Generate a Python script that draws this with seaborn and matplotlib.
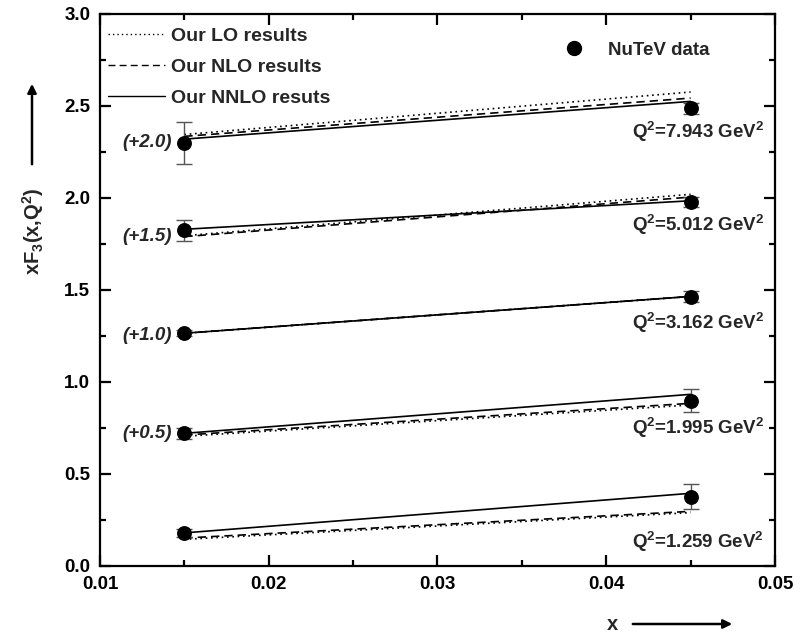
import numpy as np
import pandas as pd
import matplotlib
matplotlib.use("Agg")
import matplotlib.pyplot as plt
from matplotlib.lines import Line2D
from matplotlib.ticker import MultipleLocator, FormatStrFormatter
import seaborn as sns

# ---------------- data ----------------
x_vals = [0.015, 0.045]
q2_labels = ["1.259", "1.995", "3.162", "5.012", "7.943"]
shift_labels = ["", "(+0.5)", "(+1.0)", "(+1.5)", "(+2.0)"]

data_left = [0.179, 0.721, 1.265, 1.825, 2.30]
data_right = [0.377, 0.898, 1.464, 1.978, 2.488]
err_left = [0.02, 0.03, 0.015, 0.058, 0.115]
err_right = [0.068, 0.062, 0.03, 0.025, 0.03]

lo_left = [0.145, 0.705, 1.265, 1.795, 2.345]
lo_right = [0.290, 0.875, 1.465, 2.020, 2.576]
nlo_left = [0.152, 0.712, 1.265, 1.790, 2.335]
nlo_right = [0.297, 0.884, 1.465, 2.005, 2.543]
nnlo_left = [0.180, 0.721, 1.265, 1.830, 2.320]
nnlo_right = [0.395, 0.933, 1.465, 1.985, 2.525]

# label anchor values (y positions in data units)
q2_label_y = [0.132, 0.75, 1.32, 1.853, 2.36]
shift_label_y = [0.0, 0.72, 1.25, 1.79, 2.30]

# ---------------- style ----------------
sns.set_theme(style="ticks")
plt.rcParams.update({
    "xtick.direction": "in", "ytick.direction": "in",
    "xtick.top": True, "ytick.right": True,
})
plt.rcParams["font.family"] = ["Liberation Sans", "DejaVu Sans"]
plt.rcParams["font.weight"] = "bold"
plt.rcParams["mathtext.fontset"] = "custom"
plt.rcParams["mathtext.rm"] = "Liberation Sans:bold"
plt.rcParams["mathtext.it"] = "Liberation Sans:bold:italic"
plt.rcParams["mathtext.bf"] = "Liberation Sans:bold"
plt.rcParams["mathtext.default"] = "rm"

fig = plt.figure(figsize=(8.01, 6.36), dpi=100)
ax = fig.add_axes([100 / 801, 70 / 636, 675 / 801, 552 / 636])

# build long tables
rows = []
for order, L, R in [("LO", lo_left, lo_right), ("NLO", nlo_left, nlo_right), ("NNLO", nnlo_left, nnlo_right)]:
    for i, q in enumerate(q2_labels):
        rows.append({"order": order, "Q2": q, "x": x_vals[0], "y": L[i]})
        rows.append({"order": order, "Q2": q, "x": x_vals[1], "y": R[i]})
theory = pd.DataFrame(rows)

drows = []
for i, q in enumerate(q2_labels):
    drows.append({"Q2": q, "x": x_vals[0], "y": data_left[i], "err": err_left[i]})
    drows.append({"Q2": q, "x": x_vals[1], "y": data_right[i], "err": err_right[i]})
data = pd.DataFrame(drows)

styles = {"LO": (0, (1, 2.2)), "NLO": (0, (5, 3)), "NNLO": "-"}
for order in ["LO", "NLO", "NNLO"]:
    sub = theory[theory.order == order]
    sns.lineplot(data=sub, x="x", y="y", units="Q2", estimator=None, ax=ax,
                 color="black", lw=1.2, linestyle=styles[order], legend=False,
                 sort=False)

ax.errorbar(data["x"], data["y"], yerr=data["err"], fmt="none",
            ecolor="#555555", elinewidth=1.0, capsize=6, capthick=1.0, zorder=3)
sns.scatterplot(data=data, x="x", y="y", ax=ax, color="black", s=115,
                edgecolor="black", linewidth=0, zorder=4, legend=False)

# text labels
for i, q in enumerate(q2_labels):
    ax.text(0.04544, q2_label_y[i], r"Q$^{2}$=" + q + r" GeV$^{2}$",
            ha="center", va="center", fontsize=13.5, fontweight="bold")
for i, s in enumerate(shift_labels):
    if s:
        ax.text(0.01428, shift_label_y[i], s, ha="right", va="center",
                fontsize=13.5, fontweight="bold", style="italic")

# axes
ax.set_xlim(0.01, 0.05)
ax.set_ylim(0.0, 3.0)
ax.xaxis.set_major_locator(MultipleLocator(0.01))
ax.xaxis.set_minor_locator(MultipleLocator(0.005))
ax.yaxis.set_major_locator(MultipleLocator(0.5))
ax.yaxis.set_minor_locator(MultipleLocator(0.25))
ax.xaxis.set_major_formatter(FormatStrFormatter("%.2f"))
ax.yaxis.set_major_formatter(FormatStrFormatter("%.1f"))
ax.set_xlabel("")
ax.set_ylabel("")
ax.tick_params(which="both", direction="in", top=True, right=True,
               width=1.6, color="black", labelsize=13.5, labelcolor="black")
ax.tick_params(which="major", length=8, pad=7)
ax.tick_params(which="minor", length=4.5)
for lab in ax.get_xticklabels() + ax.get_yticklabels():
    lab.set_fontweight("bold")
for sp in ax.spines.values():
    sp.set_linewidth(1.6)
    sp.set_visible(True)
    sp.set_color("black")

# legends
h_lines = [Line2D([], [], color="black", lw=1.0, linestyle=styles["LO"]),
           Line2D([], [], color="black", lw=1.0, linestyle=styles["NLO"]),
           Line2D([], [], color="black", lw=1.0, linestyle=styles["NNLO"])]
leg1 = ax.legend(h_lines, ["Our LO results", "Our NLO results", "Our NNLO resuts"],
                 loc="upper left", bbox_to_anchor=(-0.008, 1.0), frameon=False,
                 handlelength=2.9, handletextpad=0.35, labelspacing=0.68,
                 borderaxespad=0.3, prop={"weight": "bold", "size": 14})
ax.add_artist(leg1)
h_pt = [Line2D([], [], color="black", marker="o", linestyle="none", markersize=10)]
ax.legend(h_pt, ["NuTeV data"], loc="upper left", bbox_to_anchor=(0.65, 0.98),
          frameon=False, handletextpad=0.8, prop={"weight": "bold", "size": 13.5})

# axis titles with arrows
fig.text(33 / 801, 1 - 231 / 636, r"xF$_{3}$(x,Q$^{2}$)", rotation=90,
         ha="center", va="center", fontsize=14.5, fontweight="bold")
fig.add_artist(matplotlib.patches.FancyArrowPatch(
    (32 / 801, 1 - 167 / 636), (32 / 801, 1 - 81 / 636),
    transform=fig.transFigure, arrowstyle="-|>", mutation_scale=13,
    color="black", lw=1.8))
fig.text(612 / 801, 1 - 625 / 636, "x", ha="center", va="center",
         fontsize=14.5, fontweight="bold")
fig.add_artist(matplotlib.patches.FancyArrowPatch(
    (630 / 801, 1 - 624 / 636), (735 / 801, 1 - 624 / 636),
    transform=fig.transFigure, arrowstyle="-|>", mutation_scale=13,
    color="black", lw=1.8))

fig.savefig("out.png", dpi=100)
